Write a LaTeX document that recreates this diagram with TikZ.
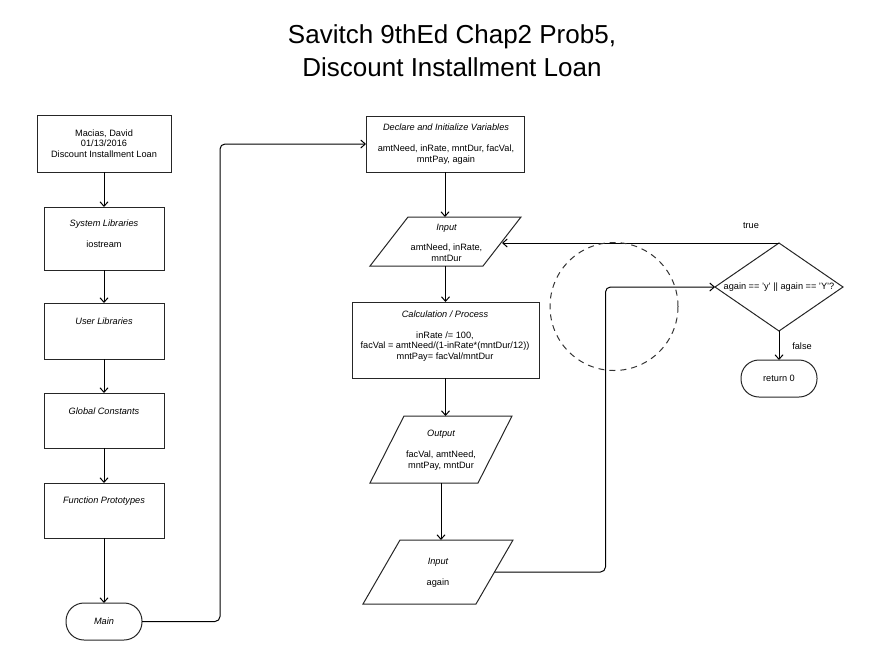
\documentclass[tikz,border=0pt]{standalone}
\usepackage{fontspec}
\setmainfont{Liberation Sans}
\usetikzlibrary{arrows.meta,shapes.geometric}
\begin{document}
\begin{tikzpicture}[x=1pt,y=-1pt,
  shp/.style={draw=black!85, line width=1pt, inner sep=0pt, outer sep=0pt},
  box/.style={shp, rectangle},
  term/.style={shp, rectangle, rounded corners=18pt, minimum width=76pt, minimum height=37pt, font=\fontsize{9.2}{10.5}\selectfont\itshape},
  ghost/.style={rectangle, inner sep=0pt, outer sep=0pt},
  txt/.style={font=\fontsize{9.2}{10.5}\selectfont, align=center, inner sep=0pt},
  ttl/.style={font=\fontsize{26}{33}\selectfont, inner sep=0pt, anchor=base},
  conn/.style={line width=1pt, -{Straight Barb[length=4.5pt,width=8pt]}, rounded corners=5pt},
  plain/.style={line width=1pt, rounded corners=5pt}
]
\useasboundingbox (0,0) rectangle (884,670);

% title
\node[ttl] (t1) at (452,43) {Savitch 9thEd Chap2 Prob5,};
\node[ttl] (t2) at (452,76) {Discount Installment Loan};

% left column
\node[box, minimum width=134pt, minimum height=57pt] (b1) at (104,143.5) {};
\node[box, minimum width=120pt, minimum height=63pt] (b2) at (104,238.5) {};
\node[box, minimum width=120pt, minimum height=56pt] (b3) at (104,331) {};
\node[box, minimum width=120pt, minimum height=55pt] (b4) at (104,420.5) {};
\node[box, minimum width=120pt, minimum height=55pt] (b5) at (104,510.5) {};
\node[term] (main) at (104,621.5) {Main};

\node[txt] (b1t) at (104,143.5) {Macias, David\\01/13/2016\\Discount Installment Loan};
\node[txt] (b2t) at (104,233.5) {\itshape System Libraries\\[10.5pt]iostream};
\node[txt] (b3t) at (104,321) {\itshape User Libraries};
\node[txt] (b4t) at (104,411) {\itshape Global Constants};
\node[txt] (b5t) at (104,501) {\itshape Function Prototypes};

\draw[conn] (b1.south) -- (b2.north);
\draw[conn] (b2.south) -- (b3.north);
\draw[conn] (b3.south) -- (b4.north);
\draw[conn] (b4.south) -- (b5.north);
\draw[conn] (b5.south) -- (main.north);

% middle column
\node[box, minimum width=158pt, minimum height=56pt] (dec) at (445,144) {};
\node[txt] (dect) at (446,144) {\itshape Declare and Initialize Variables\\[10.5pt]amtNeed, inRate, mntDur, facVal,\\mntPay, again};

\node[ghost, minimum width=113pt, minimum height=49pt] (in1) at (445.5,241.5) {};
\draw[shp] ([xshift=19pt]in1.north west) -- ([xshift=19pt]in1.north east)
  -- ([xshift=-19pt]in1.south east) -- ([xshift=-19pt]in1.south west) -- cycle;
\node[txt] (in1t) at (446.5,242.5) {\itshape Input\\[10pt]amtNeed, inRate,\\mntDur};

\node[box, minimum width=187pt, minimum height=76pt] (calc) at (445.5,340) {};
\node[txt] (calct) at (445,336) {\itshape Calculation / Process\\[10.5pt]inRate /= 100,\\facVal = amtNeed/(1-inRate*(mntDur/12))\\mntPay= facVal/mntDur};

\node[ghost, minimum width=108pt, minimum height=67pt] (out) at (441,449.5) {};
\draw[shp] ([xshift=17pt]out.north west) -- ([xshift=17pt]out.north east)
  -- ([xshift=-17pt]out.south east) -- ([xshift=-17pt]out.south west) -- cycle;
\node[txt] (outt) at (441,450) {\itshape Output\\[10.5pt]facVal, amtNeed,\\mntPay, mntDur};

\node[ghost, minimum width=113pt, minimum height=64pt] (in2) at (438,572) {};
\draw[shp] ([xshift=18.5pt]in2.north west) -- ([xshift=18.5pt]in2.north east)
  -- ([xshift=-18.5pt]in2.south east) -- ([xshift=-18.5pt]in2.south west) -- cycle;
\node[txt] (in2t) at (438,572.5) {\itshape Input\\[10.5pt]again};

\draw[conn] (main.east) -- ++(78,0) |- (dec.west);
\draw[conn] (dec.south) -- (in1.north -| dec.south);
\draw[conn] (in1.south -| calc.north) -- (calc.north);
\draw[conn] (calc.south) -- (calc.south |- out.north);
\draw[conn] (out.south) -- (out.south |- in2.north);

% decision
\node[shp, diamond, minimum width=128pt, minimum height=88pt] (dia) at (779,287) {};
\node[txt] (diat) at (779,287) {again == 'y' || again == 'Y'?};
\node[term, font=\fontsize{9.2}{10.5}\selectfont] (ret) at (779,378.5) {return 0};
\node[txt] (truet) at (751,226) {true};
\node[txt] (falset) at (802,346) {false};

\draw[conn] (in2.east) -- ++(111,0) |- (dia.west);
\draw[conn] (dia.north) -- (dia.north -| in1.east);
\draw[conn] (dia.south) -- (ret.north);

% dashed circle
\node[circle, draw=black!80, line width=1pt, dash pattern=on 6pt off 5pt, minimum size=128pt, inner sep=0pt] (circ) at (614,306.5) {};
\end{tikzpicture}
\end{document}
